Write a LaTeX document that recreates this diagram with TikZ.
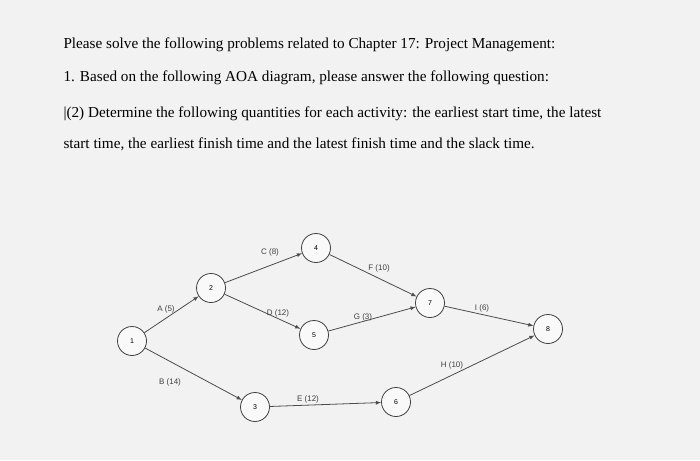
\documentclass[tikz,border=0pt]{standalone}
\usepackage{fontspec}
\setmainfont{Liberation Serif}
\newfontfamily\lab{Liberation Sans}
\begin{document}
\begin{tikzpicture}[x=1pt,y=-1pt,
  ev/.style={circle,draw=black!75,fill=white!95!gray,minimum size=29pt,inner sep=0pt,font=\lab\fontsize{7}{8}\selectfont,line width=0.8pt},
  act/.style={draw=black!70,line width=0.8pt,-latex},
  lb/.style={font=\lab\fontsize{8}{9}\selectfont,text=black!75},
  tx/.style={anchor=west,font=\fontsize{15.2}{17}\selectfont,text=black}]
\fill[gray!10] (0,0) rectangle (700,460);
\useasboundingbox (0,0) rectangle (700,460);
\node[tx] (t1) at (60,45) {Please solve the following problems related to Chapter 17: Project Management:};
\node[tx] (t2) at (60,78) {1. Based on the following AOA diagram, please answer the following question:};
\node[tx] (t3) at (60,114) {|(2) Determine the following quantities for each activity: the earliest start time, the latest};
\node[tx] (t4) at (60,144) {start time, the earliest finish time and the latest finish time and the slack time.};
\node[ev] (n1) at (132,341) {1};
\node[ev] (n2) at (211,288) {2};
\node[ev] (n4) at (316,248) {4};
\node[ev] (n5) at (314,335) {5};
\node[ev] (n7) at (430,303) {7};
\node[ev] (n8) at (548,329) {8};
\node[ev] (n3) at (255,407) {3};
\node[ev] (n6) at (396,402) {6};
\draw[act] (n1) -- (n2);
\draw[act] (n1) -- (n3);
\draw[act] (n2) -- (n4);
\draw[act] (n2) -- (n5);
\draw[act] (n4) -- (n7);
\draw[act] (n5) -- (n7);
\draw[act] (n7) -- (n8);
\draw[act] (n3) -- (n6);
\draw[act] (n6) -- (n8);
\node[lb] (lc) at (270,252) {C (8)};
\node[lb] (lf) at (379,268) {F (10)};
\node[lb] (la) at (166,309) {A (5)};
\node[lb] (ld) at (278,313) {D (12)};
\node[lb] (lg) at (363,317) {G (3)};
\node[lb] (li) at (482,308) {I (6)};
\node[lb] (lh) at (452,365) {H (10)};
\node[lb] (lbb) at (170,382) {B (14)};
\node[lb] (le) at (308,399) {E (12)};
\end{tikzpicture}
\end{document}
